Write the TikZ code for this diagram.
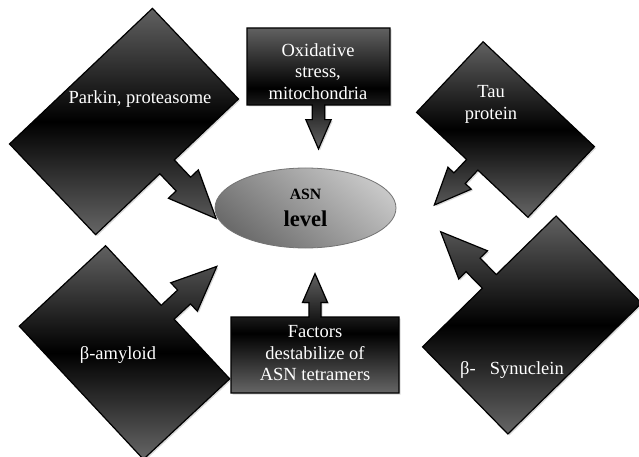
\documentclass[tikz,border=0pt]{standalone}
\usepackage{fontspec}
\setmainfont{Liberation Serif}
\usetikzlibrary{shapes.geometric, shadows}

\begin{document}
\begin{tikzpicture}[x=1pt, y=1pt]
    % Styles
    \tikzset{
        callout_body/.style={draw=black, line width=1.2pt, top color=black!62, bottom color=black!60, middle color=black, drop shadow={shadow xshift=1.5pt, shadow yshift=-1.5pt, opacity=0.3}},
        pics/callout/.style 2 args={code={
            \path[callout_body] (-#1/2,-#2/2) -- (-0.08*#2,-#2/2) -- (-0.08*#2,-0.69*#2)
                -- (-0.165*#2,-0.69*#2) -- (0,-1.07*#2) -- (0.165*#2,-0.69*#2)
                -- (0.08*#2,-0.69*#2) -- (0.08*#2,-#2/2) -- (#1/2,-#2/2)
                -- (#1/2,#2/2) -- (-#1/2,#2/2) -- cycle;
        }},
        box_text/.style={text=white, align=center, font=\fontsize{18.5}{21.5}\selectfont},
        level_oval/.style={ellipse, draw=black!55, line width=0.8pt, minimum width=181, minimum height=80, inner sep=0pt, top color=black!22, bottom color=black!58, shading angle=-40, align=center, font=\bfseries\fontsize{15.7}{27}\selectfont}
    }

    \useasboundingbox (0,0) rectangle (639,-457);

    % --- Callout boxes ---
    \pic[rotate=43.5] (parkin_box) at (124,-121.5) {callout={197}{125}};
    \pic (oxidative_box) at (318.5,-66.5) {callout={143}{77}};
    \pic[rotate=-43.3] (tau_box) at (505.5,-129.5) {callout={153}{97}};
    \pic[rotate=133] (amyloid_box) at (124.5,-352.5) {callout={182}{118}};
    \pic[rotate=180] (factors_box) at (315,-355) {callout={168}{76}};
    \pic[rotate=224.4] (synuclein_box) at (532,-325) {callout={187}{122}};

    % --- Nodes ---
    \node[level_oval] (asn) at (305.5,-208) {ASN\\{\fontsize{22.6}{27}\selectfont level}};

    \node[box_text] (parkin) at (140,-99) {Parkin, proteasome};
    \node[box_text] (oxidative) at (318,-71.5) {Oxidative\\stress,\\mitochondria};
    \node[box_text] (tau) at (491,-104.5) {Tau\\protein};
    \node[box_text] (amyloid) at (118,-355) {β-amyloid};
    \node[box_text] (factors) at (315,-353.5) {Factors\\destabilize of\\ASN tetramers};
    \node[box_text] (synuclein) at (512,-370) {β-\hspace{14pt}Synuclein};

\end{tikzpicture}
\end{document}
